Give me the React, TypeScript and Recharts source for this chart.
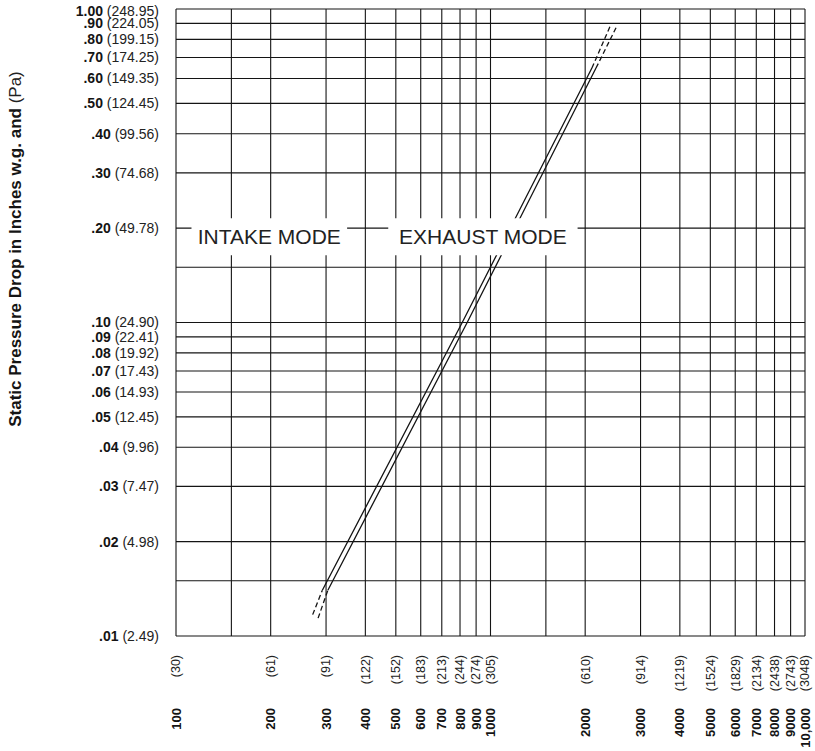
import { Label, Line, LineChart, ReferenceArea, ReferenceLine, XAxis, YAxis } from 'recharts';

// airflow (cfm) vs static pressure drop (in. w.g.)
const INTAKE_SOLID = [
  { cfm: 292, inwg: 0.014 },
  { cfm: 813, inwg: 0.1 },
  { cfm: 2101, inwg: 0.648 },
];
const INTAKE_DASH_LOW = [
  { cfm: 272, inwg: 0.0117 },
  { cfm: 292, inwg: 0.014 },
];
const INTAKE_DASH_HIGH = [
  { cfm: 2101, inwg: 0.648 },
  { cfm: 2410, inwg: 0.889 },
];
const EXHAUST_SOLID = [
  { cfm: 304, inwg: 0.014 },
  { cfm: 843, inwg: 0.1 },
  { cfm: 2165, inwg: 0.648 },
];
const EXHAUST_DASH_LOW = [
  { cfm: 283, inwg: 0.0114 },
  { cfm: 304, inwg: 0.014 },
];
const EXHAUST_DASH_HIGH = [
  { cfm: 2165, inwg: 0.648 },
  { cfm: 2532, inwg: 0.889 },
];

const X_TICKS = [100, 200, 300, 400, 500, 600, 700, 800, 900, 1000, 2000, 3000, 4000, 5000, 6000, 7000, 8000, 9000, 10000];
const X_CFM = ['100', '200', '300', '400', '500', '600', '700', '800', '900', '1000', '2000', '3000', '4000', '5000', '6000', '7000', '8000', '9000', '10,000'];
const X_MPM = ['(30)', '(61)', '(91)', '(122)', '(152)', '(183)', '(213)', '(244)', '(274)', '(305)', '(610)', '(914)', '(1219)', '(1524)', '(1829)', '(2134)', '(2438)', '(2743)', '(3048)'];

const Y_TICKS = [0.01, 0.02, 0.03, 0.04, 0.05, 0.06, 0.07, 0.08, 0.09, 0.1, 0.2, 0.3, 0.4, 0.5, 0.6, 0.7, 0.8, 0.9, 1];
const Y_INWG = ['.01', '.02', '.03', '.04', '.05', '.06', '.07', '.08', '.09', '.10', '.20', '.30', '.40', '.50', '.60', '.70', '.80', '.90', '1.00'];
const Y_PA = ['(2.49)', '(4.98)', '(7.47)', '(9.96)', '(12.45)', '(14.93)', '(17.43)', '(19.92)', '(22.41)', '(24.90)', '(49.78)', '(74.68)', '(99.56)', '(124.45)', '(149.35)', '(174.25)', '(199.15)', '(224.05)', '(248.95)'];

const GRID_X = [100, 150, 200, 300, 400, 500, 600, 700, 800, 900, 1000, 1500, 2000, 3000, 4000, 5000, 6000, 7000, 8000, 9000, 10000];
const GRID_Y = [0.01, 0.015, 0.02, 0.03, 0.04, 0.05, 0.06, 0.07, 0.08, 0.09, 0.1, 0.15, 0.2, 0.3, 0.4, 0.5, 0.6, 0.7, 0.8, 0.9, 1];

const MODE_LABELS = [
  { text: 'INTAKE MODE', x1: 112, x2: 350, y1: 0.164, y2: 0.215 },
  { text: 'EXHAUST MODE', x1: 473, x2: 1892, y1: 0.164, y2: 0.215 },
];

const INK = '#141414';
const FONT = '"Liberation Sans", Arial, Helvetica, sans-serif';

function XTick({ x, y, payload }: any) {
  const i = X_TICKS.indexOf(payload.value);
  return (
    <g>
      <text transform={`translate(${x},${y + 19}) rotate(-90)`} textAnchor="end" dy="0.35em" fontSize={12.5} fill="#222">
        {X_MPM[i]}
      </text>
      <text transform={`translate(${x},${y + 72}) rotate(-90)`} textAnchor="end" dy="0.35em" fontSize={13} fontWeight="bold" fill={INK}>
        {X_CFM[i]}
      </text>
    </g>
  );
}

function YTick({ x, y, payload }: any) {
  const i = Y_TICKS.indexOf(payload.value);
  const shift = payload.value === 1 ? 2 : 0;
  return (
    <text x={x} y={y + shift} dy="0.35em" textAnchor="end" fontSize={14} fill="#222">
      <tspan fontWeight="bold" fill={INK}>{Y_INWG[i]}</tspan>
      <tspan> {Y_PA[i]}</tspan>
    </text>
  );
}

function YTitle(props: any) {
  const vb = props.viewBox;
  const cx = vb.x + 15;
  const cy = vb.y + 240;
  return (
    <text x={cx} y={cy} dy="0.35em" textAnchor="middle" transform={`rotate(-90 ${cx} ${cy})`} fontSize={17} fill={INK}>
      <tspan fontWeight="bold">Static Pressure Drop in Inches w.g. and</tspan>
      <tspan fill="#222"> (Pa)</tspan>
    </text>
  );
}

export default function App() {
  const solid = { stroke: INK, strokeWidth: 1.3, dot: false, isAnimationActive: false, dataKey: 'inwg' };
  const dashed = { ...solid, strokeDasharray: '5 3' };
  return (
    <div style={{ width: 815, height: 751, background: '#fff', fontFamily: FONT }}>
      <style>{'body{margin:0}'}</style>
      <LineChart width={815} height={751} margin={{ top: 9, right: 10, left: 0, bottom: 0 }}>
        <XAxis
          dataKey="cfm"
          type="number"
          scale="log"
          domain={[100, 10000]}
          ticks={X_TICKS}
          interval={0}
          allowDataOverflow
          axisLine={false}
          tickLine={false}
          tickSize={0}
          tickMargin={0}
          height={115}
          tick={<XTick />}
        />
        <YAxis
          type="number"
          scale="log"
          domain={[0.01, 1]}
          ticks={Y_TICKS}
          interval={0}
          allowDataOverflow
          axisLine={false}
          tickLine={false}
          tickSize={0}
          tickMargin={17}
          width={176}
          tick={<YTick />}
        >
          <Label content={<YTitle />} />
        </YAxis>

        {GRID_X.map((v) => (
          <ReferenceLine key={`gx${v}`} x={v} stroke={INK} strokeWidth={1.1} />
        ))}
        {GRID_Y.map((v) => (
          <ReferenceLine key={`gy${v}`} y={v} stroke={INK} strokeWidth={1.1} />
        ))}

        <Line {...solid} data={INTAKE_SOLID} name="Intake" />
        <Line {...dashed} data={INTAKE_DASH_LOW} name="Intake (ext. low)" />
        <Line {...dashed} data={INTAKE_DASH_HIGH} name="Intake (ext. high)" />
        <Line {...solid} data={EXHAUST_SOLID} name="Exhaust" />
        <Line {...dashed} data={EXHAUST_DASH_LOW} name="Exhaust (ext. low)" />
        <Line {...dashed} data={EXHAUST_DASH_HIGH} name="Exhaust (ext. high)" />

        {MODE_LABELS.map((m) => (
          <ReferenceArea
            key={m.text}
            x1={m.x1}
            x2={m.x2}
            y1={m.y1}
            y2={m.y2}
            fill="#fff"
            fillOpacity={1}
            stroke="none"
            zIndex={1000}
            label={{ value: m.text, position: 'center', fill: '#222', fontSize: 21 }}
          />
        ))}
      </LineChart>
    </div>
  );
}
